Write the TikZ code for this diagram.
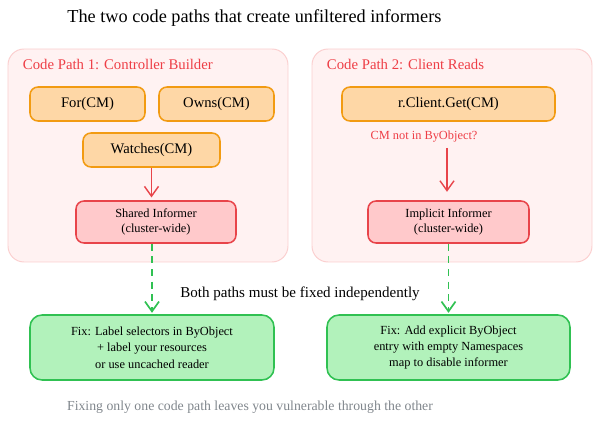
\documentclass[tikz,border=0pt]{standalone}
\usepackage{fontspec}
\setmainfont{Liberation Serif}
\usetikzlibrary{arrows.meta}

\definecolor{pathfill}{HTML}{FFF2F2}
\definecolor{pathline}{HTML}{FBCFCF}
\definecolor{callfill}{HTML}{FED7A6}
\definecolor{callline}{HTML}{F29B12}
\definecolor{infofill}{HTML}{FFC9CB}
\definecolor{infoline}{HTML}{E8444A}
\definecolor{fixfill}{HTML}{B2F2BB}
\definecolor{fixline}{HTML}{30C152}
\definecolor{redtext}{HTML}{EE3E46}
\definecolor{greytext}{HTML}{80868C}

\begin{document}
\begin{tikzpicture}[
  container/.style={draw=pathline, fill=pathfill, line width=0.7pt, rounded corners=0.4cm},
  call/.style={draw=callline, fill=callfill, line width=1.1pt, rounded corners=0.2cm,
    minimum height=0.85cm, font=\fontsize{10.4}{12}\selectfont},
  informer/.style={draw=infoline, fill=infofill, line width=1.1pt, rounded corners=0.2cm,
    minimum height=1.05cm, align=center, font=\fontsize{8.8}{10.5}\selectfont},
  fix/.style={draw=fixline, fill=fixfill, line width=1.1pt, rounded corners=0.3cm,
    minimum height=1.625cm, align=center, font=\fontsize{8.8}{11.6}\selectfont},
  heading/.style={text=redtext, anchor=west, font=\fontsize{10.5}{12}\selectfont},
  flow/.style={draw=infoline, line width=1pt, -{Straight Barb[length=7pt,width=10pt]}},
  fixflow/.style={draw=fixline, line width=1.2pt, dashed, dash pattern=on 5pt off 4pt,
    -{Straight Barb[length=7pt,width=10pt]}}
]
  \useasboundingbox (0,0) rectangle (15,-10.575);

  % Title
  \node (title) at (6.36,-0.45) {\fontsize{13}{15}\selectfont The two code paths that create unfiltered informers};

  % Containers for the two code paths
  \node[container, minimum width=7cm, minimum height=5.325cm] (path1) at (3.7,-3.8875) {};
  \node[container, minimum width=7cm, minimum height=5.325cm] (path2) at (11.3,-3.8875) {};
  \node[heading] (head1) at (0.45,-1.6) {Code Path 1: Controller Builder};
  \node[heading] (head2) at (8.05,-1.6) {Code Path 2: Client Reads};

  % Calls in path 1
  \node[call, minimum width=2.875cm] (for) at (2.1875,-2.6) {For(CM)};
  \node[call, minimum width=2.875cm] (owns) at (5.4125,-2.6) {Owns(CM)};
  \node[call, minimum width=3.425cm] (watches) at (3.7875,-3.75) {Watches(CM)};

  % Calls in path 2
  \node[call, minimum width=5.325cm] (get) at (11.2125,-2.6) {r.Client.Get(CM)};
  \node[text=redtext, font=\fontsize{8.8}{10}\selectfont] (notin) at (10.6,-3.425) {CM not in ByObject?};
  \coordinate (q) at (11.175,-3.7);

  % Informers
  \node[informer, minimum width=4cm] (shared) at (3.9,-5.55) {Shared Informer\\(cluster-wide)};
  \node[informer, minimum width=4.025cm] (implicit) at (11.2125,-5.55) {Implicit Informer\\(cluster-wide)};

  % Fixes
  \node[fix, minimum width=6.1cm] (fixL) at (3.8,-8.6875) {Fix: Label selectors in ByObject\\+ label your resources\\or use uncached reader};
  \node[fix, minimum width=6.075cm] (fixR) at (11.2125,-8.6875) {Fix: Add explicit ByObject\\entry with empty Namespaces\\map to disable informer};

  \node (both) at (7.5,-7.35) {\fontsize{10.7}{12}\selectfont Both paths must be fixed independently};
  \node[text=greytext] (note) at (6.25,-10.175) {\fontsize{9.8}{11}\selectfont Fixing only one code path leaves you vulnerable through the other};

  % Arrows
  \draw[flow, shorten >=2pt] (watches.south) -- (watches.south |- shared.north);
  \draw[flow, shorten >=6pt] (q) -- (q |- implicit.north);
  \draw[fixflow, shorten >=1pt] (shared.south -| fixL.north) -- (fixL.north);
  \draw[fixflow, shorten >=1pt] (implicit.south -| fixR.north) -- (fixR.north);
\end{tikzpicture}
\end{document}
